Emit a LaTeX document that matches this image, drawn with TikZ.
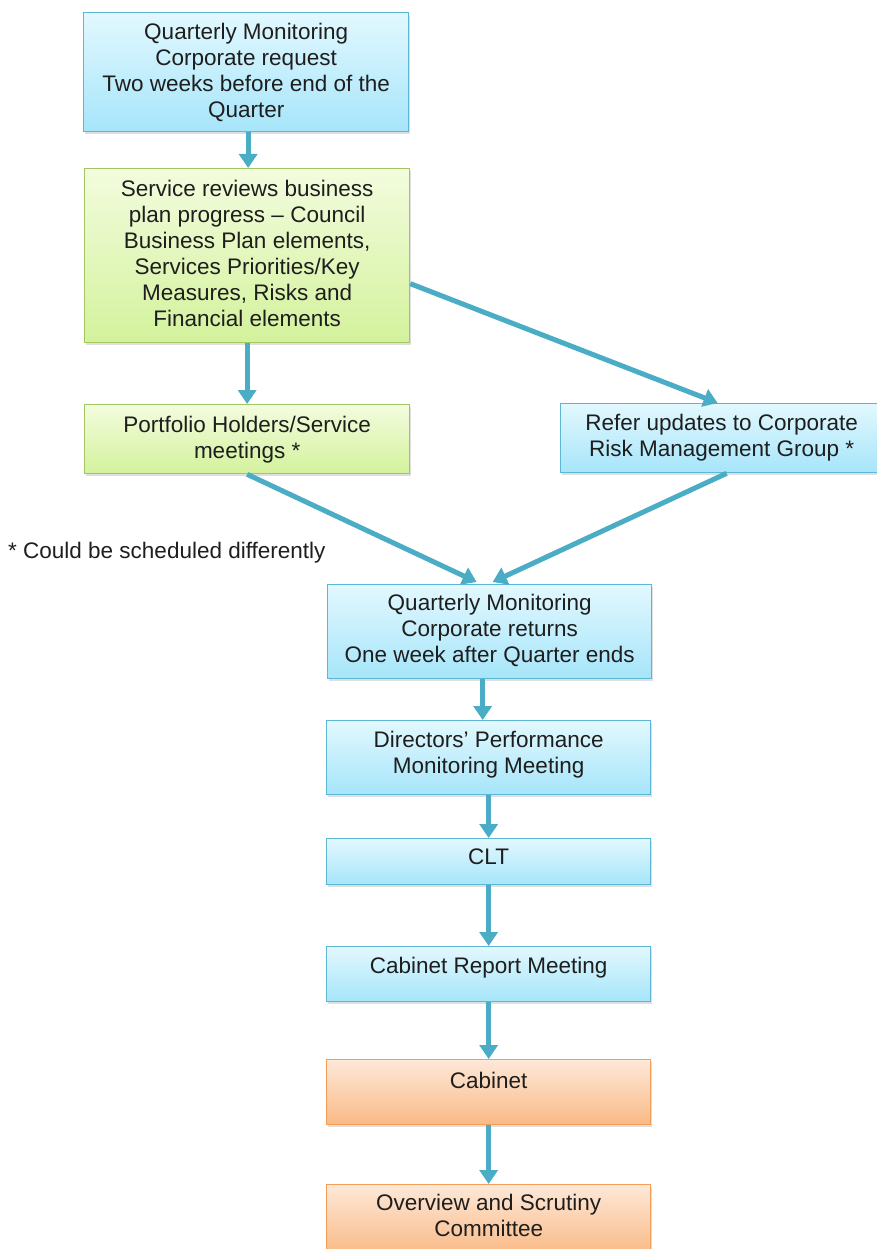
\documentclass[tikz,border=0pt]{standalone}
\usepackage{fontspec}
\setmainfont{Liberation Sans}
\usetikzlibrary{arrows.meta,shadows,calc}
\definecolor{arr}{HTML}{4BACC6}
\definecolor{bluetop}{HTML}{E2F8FE}
\definecolor{bluebot}{HTML}{A6E5FA}
\definecolor{blueline}{HTML}{5DB6D6}
\definecolor{greentop}{HTML}{F3FCDE}
\definecolor{greenbot}{HTML}{D3F29C}
\definecolor{greenline}{HTML}{A3C662}
\definecolor{orangetop}{HTML}{FEE8D8}
\definecolor{orangebot}{HTML}{F9BA86}
\definecolor{orangeline}{HTML}{F59D56}
\definecolor{txtcol}{HTML}{1E1E1E}
\begin{document}
\begin{tikzpicture}[x=1pt,y=-1pt,
  box/.style={draw, line width=1.3pt, anchor=north west, inner sep=0pt,
    drop shadow={shadow xshift=1.5pt,shadow yshift=-2.5pt,opacity=0.25}},
  bluebox/.style={box, draw=blueline, top color=bluetop, bottom color=bluebot},
  greenbox/.style={box, draw=greenline, top color=greentop, bottom color=greenbot},
  orangebox/.style={box, draw=orangeline, top color=orangetop, bottom color=orangebot},
  txt/.style={anchor=north, inner sep=0pt, align=center, font=\fontsize{22.5}{26}\selectfont, text=txtcol},
  flow/.style={draw=arr, line width=5pt, -{Triangle[width=18pt,length=14pt]}}]
\useasboundingbox (0,0) rectangle (877,1249);
% boxes
\node[bluebox, minimum width=325pt, minimum height=119pt] (q1) at (83,12) {};
\node[greenbox, minimum width=325pt, minimum height=174pt] (green) at (84,168) {};
\node[greenbox, minimum width=325pt, minimum height=69pt] (port) at (84,404) {};
\node[bluebox, minimum width=322pt, minimum height=69pt] (refer) at (560,403) {};
\node[bluebox, minimum width=324pt, minimum height=94pt] (ret) at (327,584) {};
\node[bluebox, minimum width=324pt, minimum height=74pt] (dir) at (326,720) {};
\node[bluebox, minimum width=324pt, minimum height=46pt] (clt) at (326,838) {};
\node[bluebox, minimum width=324pt, minimum height=55pt] (crm) at (326,946) {};
\node[orangebox, minimum width=324pt, minimum height=65pt] (cab) at (326,1059) {};
\node[orangebox, minimum width=324pt, minimum height=70pt] (ovs) at (326,1184) {};
% texts
\node[txt] (q1t) at ($(q1.north)+(0,11)$) {Quarterly Monitoring\\Corporate request\\Two weeks before end of the\\Quarter};
\node[txt] (greent) at ($(green.north)+(0,12)$) {Service reviews business\\plan progress -- Council\\Business Plan elements,\\Services Priorities/Key\\Measures, Risks and\\Financial elements};
\node[txt] (portt) at ($(port.north)+(0,12)$) {Portfolio Holders/Service\\meetings *};
\node[txt] (refert) at ($(refer.north)+(0,11)$) {Refer updates to Corporate\\Risk Management Group *};
\node[txt] (rett) at ($(ret.north)+(0,10)$) {Quarterly Monitoring\\Corporate returns\\One week after Quarter ends};
\node[txt] (dirt) at ($(dir.north)+(0,11)$) {Directors' Performance\\Monitoring Meeting};
\node[txt] (cltt) at ($(clt.north)+(0,11)$) {CLT};
\node[txt] (crmt) at ($(crm.north)+(0,11)$) {Cabinet Report Meeting};
\node[txt] (cabt) at ($(cab.north)+(0,13)$) {Cabinet};
\node[txt] (ovst) at ($(ovs.north)+(0,10)$) {Overview and Scrutiny\\Committee};
\node[txt, anchor=west] (foot) at (8,553) {* Could be scheduled differently};
% connectors
\draw[flow] ($(q1.south)+(2,0)$) -- ($(green.north)+(1,0)$);
\draw[flow] (green.south) -- (port.north);
\draw[flow] ($(green.east)+(0,28)$) -- ($(refer.north)+(-4,0)$);
\draw[flow] (port.south) -- ($(ret.north)+(-13,-2)$);
\draw[flow] ($(refer.south)+(5,0)$) -- ($(ret.north)+(3,-2)$);
\draw[flow] ($(ret.south)+(-7,0)$) -- ($(dir.north)+(-6,0)$);
\draw[flow] (dir.south) -- (clt.north);
\draw[flow] (clt.south) -- (crm.north);
\draw[flow] (crm.south) -- (cab.north);
\draw[flow] (cab.south) -- (ovs.north);
\end{tikzpicture}
\end{document}
